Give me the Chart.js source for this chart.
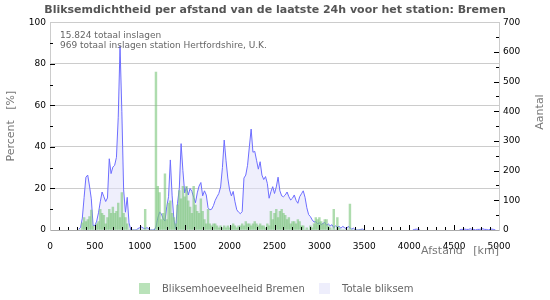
<!DOCTYPE html>
<html lang="nl">
<head>
<meta charset="utf-8">
<title>Bliksemdichtheid per afstand</title>
<script src="https://cdn.jsdelivr.net/npm/chart.js@4.4.1/dist/chart.umd.min.js"></script>
<style>
  html, body { margin: 0; padding: 0; background: #fff; }
  #wrap { position: relative; width: 550px; height: 300px; font-family: "DejaVu Sans", sans-serif; }
  #legenda span { position: absolute; }
  #legenda .blok { width: 11px; height: 11px; top: 283px; }
  #legenda .tekst { top: 282px; font-size: 10px; line-height: 13px; color: #666; white-space: nowrap; }
</style>
</head>
<body>
<div id="wrap">
  <canvas id="grafiek" width="550" height="300"></canvas>
  <div id="legenda">
    <span class="blok" style="left:139px;background:#b9e2b9"></span>
    <span class="tekst" style="left:162px">Bliksemhoeveelheid Bremen</span>
    <span class="blok" style="left:319px;background:#eeeefc"></span>
    <span class="tekst" style="left:342px">Totale bliksem</span>
  </div>
</div>
<script>
  // -----------------------------
  // Data: klassen van 20 km, eerste klasse 320 km
  // -----------------------------
  const startKm = 320;
  const stapKm = 20;

  // aandeel station Bremen per klasse [%]
  const percentage = [
    0, 0, 3.4, 6, 4, 5, 6.5, 9.6, 2, 0,        // 320-500
    3, 4, 10, 8, 7, 3, 6, 10, 8, 11,           // 520-700
    8, 9, 13, 6, 18, 8, 6, 3, 0, 0,            // 720-900
    0, 0, 0, 0, 0, 0, 0, 10, 0, 0,             // 920-1100
    0, 0, 0, 76, 21, 18, 5, 8, 27, 5,          // 1120-1300
    13, 14, 8, 6, 3, 12, 19, 15, 21, 16,       // 1320-1500
    21, 14, 11, 8, 21, 12, 9, 8, 15, 9,        // 1520-1700
    5, 3, 10, 3, 2, 3, 3, 2, 1, 2,             // 1720-1900
    1, 2, 1, 2, 1, 2, 3, 2, 1, 2,              // 1920-2100
    2, 3, 2, 4, 3, 3, 2, 3, 4, 3,              // 2120-2300
    2, 3, 2, 2, 1, 3, 2, 9, 5, 8,              // 2320-2500
    10, 6, 9, 10, 8, 7, 5, 6, 3, 4,            // 2520-2700
    4, 3, 5, 4, 2, 2, 0, 1, 0, 2,              // 2720-2900
    1, 3, 6, 5, 6, 4, 3, 5, 5, 2,              // 2920-3100
    1, 0, 10, 0, 6, 1, 0, 0, 0, 0,             // 3120-3300
    0, 12.5, 0, 0, 0, 0, 0, 0, 0, 0            // 3320-3500
  ];

  // totaal aantal inslagen per klasse
  const aantal = [
    3, 8, 40, 110, 178, 185, 148, 105, 15, 15,
    30, 58, 95, 128, 112, 96, 108, 240, 190, 212,
    218, 245, 380, 620, 400, 135, 60, 110, 24, 0,
    0, 0, 0, 5, 8, 10, 6, 5, 8, 4,
    0, 0, 0, 10, 40, 60, 55, 38, 30, 78,
    112, 236, 115, 35, 3, 90, 140, 291, 200, 125,
    145, 118, 140, 130, 110, 92, 125, 148, 160, 115,
    132, 118, 75, 68, 70, 82, 100, 112, 123, 145,
    210, 303, 235, 175, 135, 115, 130, 95, 68, 60,
    55, 62, 175, 185, 218, 280, 340, 262, 265, 235,
    205, 230, 185, 170, 180, 157, 107, 129, 146, 123,
    145, 178, 132, 115, 112, 118, 128, 112, 101, 107,
    118, 100, 90, 112, 122, 132, 110, 75, 52, 45,
    34, 27, 28, 22, 24, 18, 22, 26, 16, 20,
    14, 18, 8, 14, 10, 12, 6, 12, 8, 4,
    12, 8, 3, 6, 0, 0, 0, 2, 3, 0
  ];

  // losse inslagen ver weg (null = onderbreking van de lijn)
  const staartKm     = [3520, 4040, 4060, 4080, 4100, 4120, 4300, 4560, 4580, 4600, 4620, 4640, 4660, 4680, 4700, 4720, 4740, 4760, 4780, 4800, 4820, 4840, 4860, 4880, 4900, 4920, 4940, 4960];
  const staartAantal = [null, 0, 2, 3, 2, 0, null, 0, 2, 2, 3, 2, 2, 4, 2, 2, 0, 2, 2, 3, 4, 2, 2, 0, 2, 3, 2, 0];

  const afstand = percentage.map((_, i) => startKm + i * stapKm);

  const staven = afstand.map((km, i) => ({ x: km, y: percentage[i] }));
  const lijn = afstand.map((km, i) => ({ x: km, y: aantal[i] }))
    .concat(staartKm.map((km, i) => ({ x: km, y: staartAantal[i] })));

  // -----------------------------
  // Binnen-ticks en extra teksten
  // -----------------------------
  const extraTekst = {
    id: "extraTekst",
    afterDraw(chart) {
      const { ctx, chartArea: ca, scales } = chart;
      ctx.save();
      ctx.strokeStyle = "#000";
      ctx.lineWidth = 1;
      ctx.beginPath();
      for (let km = 100; km < 5000; km += 100) {
        const x = Math.round(scales.x.getPixelForValue(km)) + 0.5;
        ctx.moveTo(x, ca.bottom);
        ctx.lineTo(x, ca.bottom - (km % 500 === 0 ? 5 : 3));
      }
      for (let p = 10; p < 100; p += 10) {
        const y = Math.round(scales.y.getPixelForValue(p)) + 0.5;
        ctx.moveTo(ca.left, y);
        ctx.lineTo(ca.left + (p % 20 === 0 ? 5 : 3), y);
      }
      for (let n = 50; n < 700; n += 50) {
        const y = Math.round(scales.y2.getPixelForValue(n)) + 0.5;
        ctx.moveTo(ca.right, y);
        ctx.lineTo(ca.right - (n % 100 === 0 ? 5 : 3), y);
      }
      ctx.stroke();

      ctx.fillStyle = "#666";
      ctx.font = "9px 'DejaVu Sans'";
      ctx.textAlign = "left";
      ctx.textBaseline = "alphabetic";
      ctx.fillText("15.824 totaal inslagen", ca.left + 10, ca.top + 16);
      ctx.fillText("969 totaal inslagen station Hertfordshire, U.K.", ca.left + 10, ca.top + 26);

      ctx.fillStyle = "#777";
      ctx.font = "11px 'DejaVu Sans'";
      ctx.textAlign = "right";
      ctx.fillText("Afstand   [km]", ca.right, ca.bottom + 24);

      ctx.textAlign = "center";
      ctx.textBaseline = "middle";
      ctx.translate(11, (ca.top + ca.bottom) / 2);
      ctx.rotate(-Math.PI / 2);
      ctx.fillText("Percent   [%]", 0, 0);
      ctx.restore();

      ctx.save();
      ctx.fillStyle = "#777";
      ctx.font = "11px 'DejaVu Sans'";
      ctx.textAlign = "center";
      ctx.textBaseline = "middle";
      ctx.translate(540, 112);
      ctx.rotate(-Math.PI / 2);
      ctx.fillText("Aantal", 0, 0);
      ctx.restore();
    }
  };

  Chart.defaults.font.family = "'DejaVu Sans', sans-serif";

  new Chart(document.getElementById("grafiek"), {
    type: "bar",
    data: {
      datasets: [
        {
          type: "bar",
          label: "Bliksemhoeveelheid Bremen",
          data: staven,
          yAxisID: "y",
          backgroundColor: "rgba(125, 198, 125, 0.62)",
          borderWidth: 0,
          barPercentage: 1,
          categoryPercentage: 1,
          order: 1
        },
        {
          type: "line",
          label: "Totale bliksem",
          data: lijn,
          yAxisID: "y2",
          borderColor: "#6e6eff",
          borderWidth: 1,
          backgroundColor: "rgba(225, 225, 250, 0.55)",
          fill: "origin",
          pointRadius: 0,
          tension: 0,
          spanGaps: false,
          order: 2
        }
      ]
    },
    options: {
      responsive: false,
      animation: false,
      devicePixelRatio: 1,
      layout: { padding: 0 },
      plugins: {
        legend: { display: false },
        tooltip: { enabled: false },
        title: {
          display: true,
          text: "Bliksemdichtheid per afstand van de laatste 24h voor het station: Bremen",
          color: "#555",
          font: { size: 11, weight: "bold" },
          padding: { top: 4, bottom: 5 }
        }
      },
      scales: {
        x: {
          type: "linear",
          min: 0,
          max: 5000,
          offset: false,
          grid: { display: false, offset: false },
          border: { color: "#aaa" },
          ticks: {
            stepSize: 500, color: "#000", font: { size: 9 }, padding: 3,
            maxRotation: 0, autoSkip: false,
            callback: v => String(v)
          },
          afterFit: s => { s.height = 70; }
        },
        y: {
          position: "left",
          min: 0,
          max: 100,
          grid: { color: "#ccc", drawTicks: false },
          border: { color: "#ccc" },
          ticks: { stepSize: 20, color: "#000", font: { size: 9 }, padding: 4 },
          afterFit: s => { s.width = 50; }
        },
        y2: {
          position: "right",
          min: 0,
          max: 700,
          grid: { drawOnChartArea: false, drawTicks: false },
          border: { color: "#ccc" },
          ticks: { stepSize: 100, color: "#000", font: { size: 9 }, padding: 4 },
          afterFit: s => { s.width = 51; }
        }
      }
    },
    plugins: [extraTekst]
  });
</script>
</body>
</html>
